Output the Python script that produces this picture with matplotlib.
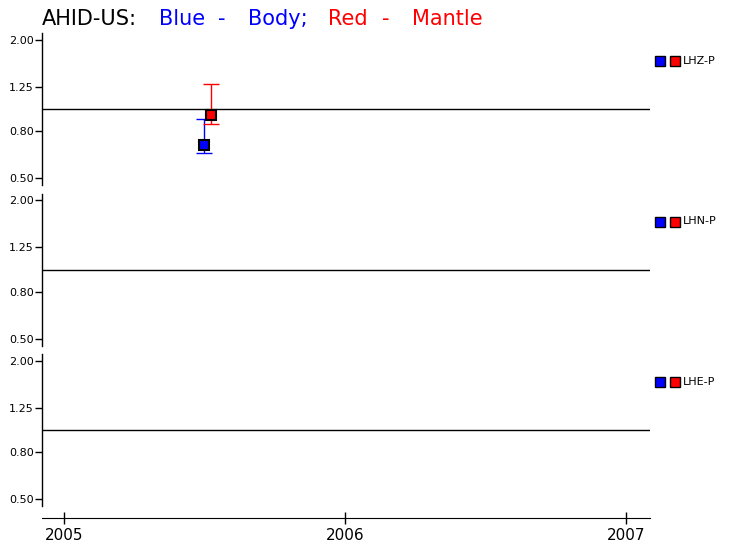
import matplotlib
matplotlib.use("Agg")
import matplotlib.pyplot as plt
import matplotlib.dates as mdates
from matplotlib.patches import Rectangle
from datetime import datetime

# station / channels
station = "AHID-US:"
channels = ["LHZ-P", "LHN-P", "LHE-P"]

# body wave ratios (blue), only LHZ has data
body_dates = {"LHZ-P": ["2005-07-02"], "LHN-P": [], "LHE-P": []}
body_vals = {"LHZ-P": [0.70], "LHN-P": [], "LHE-P": []}
body_lo = {"LHZ-P": [0.648], "LHN-P": [], "LHE-P": []}
body_hi = {"LHZ-P": [0.91], "LHN-P": [], "LHE-P": []}

# mantle wave ratios (red)
mantle_dates = {"LHZ-P": ["2005-07-11"], "LHN-P": [], "LHE-P": []}
mantle_vals = {"LHZ-P": [0.94], "LHN-P": [], "LHE-P": []}
mantle_lo = {"LHZ-P": [0.862], "LHN-P": [], "LHE-P": []}
mantle_hi = {"LHZ-P": [1.29], "LHN-P": [], "LHE-P": []}

yticks = [0.5, 0.8, 1.25, 2.0]
ytick_labels = ["0.50", "0.80", "1.25", "2.00"]
year_ticks = [2005, 2006, 2007]

W, H = 733, 551
fig = plt.figure(figsize=(W / 100, H / 100), dpi=100)

def px(x, y):  # pixel (from top-left) -> figure fraction
    return x / W, 1 - y / H

left, right = 42, 650
tops = [33, 193.5, 354]
height = 152
xmin = datetime(2004, 12, 3)
xmax = datetime(2007, 2, 1)

def to_dt(lst):
    return [datetime.strptime(s, "%Y-%m-%d") for s in lst]

axes = []
for i, ch in enumerate(channels):
    top = tops[i]
    x0, y0 = px(left, top + height)
    ax = fig.add_axes([x0, y0, (right - left) / W, height / H])
    ax.set_yscale("log")
    ax.set_ylim(0.468, 2.145)
    ax.set_xlim(xmin, xmax)
    ax.set_yticks(yticks)
    ax.set_yticklabels(ytick_labels)
    ax.yaxis.set_minor_locator(plt.NullLocator())
    ax.tick_params(axis="y", direction="out", length=5, width=1, pad=1, labelsize=8)
    for s in ["top", "right", "bottom"]:
        ax.spines[s].set_visible(False)
    ax.spines["left"].set_linewidth(1)
    ax.axhline(1.0, color="black", lw=1)

    # body
    if body_vals[ch]:
        d = to_dt(body_dates[ch])
        v = body_vals[ch]
        err = [[a - b for a, b in zip(v, body_lo[ch])], [b - a for a, b in zip(v, body_hi[ch])]]
        ax.errorbar(d, v, yerr=err, fmt="none", ecolor="blue", elinewidth=1, capsize=6, capthick=1)
        ax.plot(d, v, "s", color="blue", mec="black", mew=1.5, ms=7, zorder=5)
    # mantle
    if mantle_vals[ch]:
        d = to_dt(mantle_dates[ch])
        v = mantle_vals[ch]
        err = [[a - b for a, b in zip(v, mantle_lo[ch])], [b - a for a, b in zip(v, mantle_hi[ch])]]
        ax.errorbar(d, v, yerr=err, fmt="none", ecolor="red", elinewidth=1, capsize=6, capthick=1)
        ax.plot(d, v, "s", color="red", mec="black", mew=1.5, ms=7, zorder=5)

    # legend at right
    ly = top + 28
    for cx, col in [(655, "blue"), (670, "red")]:
        fx, fy = px(cx, ly + 5)
        fig.add_artist(Rectangle((fx, fy), 10 / W, 10 / H, transform=fig.transFigure,
                                 facecolor=col, edgecolor="black", lw=1))
    tx, ty = px(683, ly)
    fig.text(tx, ty, ch, fontsize=8, va="center", ha="left")

    if i < len(channels) - 1:
        ax.set_xticks([])
    else:
        ax.spines["bottom"].set_visible(True)
        ax.spines["bottom"].set_position(("outward", 8.6))
        ax.set_xticks([datetime(y, 1, 1) for y in year_ticks])
        ax.xaxis.set_major_formatter(mdates.DateFormatter("%Y"))
        ax.tick_params(axis="x", direction="inout", length=8, width=1, pad=3, labelsize=11)
    axes.append(ax)

# title pieces
title_parts = [("AHID-US:", "black", 42), ("Blue", "blue", 159), ("-", "blue", 218),
               ("Body;", "blue", 248), ("Red", "red", 328), ("-", "red", 382), ("Mantle", "red", 412)]
for txt, col, x in title_parts:
    fx, fy = px(x, 25)
    fig.text(fx, fy, txt, color=col, fontsize=15, va="baseline", ha="left")

fig.savefig("out.png", dpi=100)
